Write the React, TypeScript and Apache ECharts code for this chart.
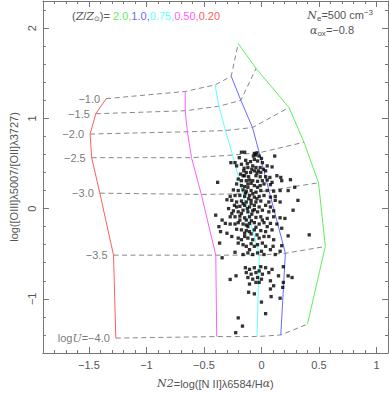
import React, { useEffect, useRef } from 'react';
import * as echarts from 'echarts';

// ---- Data ----
const LOG_U = [-1.0, -1.5, -2.0, -2.5, -3.0, -3.5, -4.0];
const METALLICITIES = ['2.0', '1.0', '0.75', '0.50', '0.20'];

// model grid points (one value per log U), per metallicity
const Z20_X = [-0.202, -0.047, 0.239, 0.370, 0.496, 0.555, 0.400];
const Z20_Y = [1.829, 1.553, 1.120, 0.735, 0.286, -0.420, -1.280];
const Z10_X = [-0.263, -0.179, -0.078, -0.019, 0.065, 0.208, 0.168];
const Z10_Y = [1.466, 1.200, 0.898, 0.619, 0.200, -0.495, -1.400];
const Z075_X = [-0.403, -0.370, -0.313, -0.251, -0.160, -0.019, -0.039];
const Z075_Y = [1.371, 1.134, 0.865, 0.593, 0.164, -0.516, -1.418];
const Z05_X = [-0.663, -0.663, -0.644, -0.608, -0.523, -0.397, -0.389];
const Z05_Y = [1.298, 1.084, 0.851, 0.564, 0.157, -0.516, -1.418];
const Z02_X = [-1.350, -1.440, -1.490, -1.476, -1.405, -1.286, -1.266];
const Z02_Y = [1.218, 1.051, 0.826, 0.564, 0.171, -0.516, -1.435];

// observed galaxies [N2, log(OIII/OII)]
const OBS_POINTS: [number, number][] = [
  [-0.174, 0.625], [-0.146, 0.625], [-0.062, 0.611], [-0.039, 0.618], [-0.048, 0.593], [-0.070, 0.582],
  [-0.020, 0.582], [0.115, 0.582], [-0.193, 0.564], [-0.266, 0.509], [-0.230, 0.509], [-0.137, 0.535],
  [-0.123, 0.498], [-0.095, 0.520], [-0.062, 0.545], [-0.034, 0.527], [0.000, 0.556], [0.008, 0.509],
  [-0.174, 0.491], [-0.216, 0.473], [-0.151, 0.447], [-0.118, 0.455], [-0.076, 0.473], [-0.048, 0.455],
  [-0.011, 0.455], [0.017, 0.436], [0.050, 0.473], [0.092, 0.462], [-0.154, 0.418], [-0.132, 0.400],
  [-0.095, 0.400], [-0.062, 0.418], [-0.028, 0.418], [-0.006, 0.400], [0.036, 0.418], [-0.182, 0.382],
  [-0.146, 0.364], [-0.112, 0.353], [-0.048, 0.364], [-0.011, 0.353], [0.036, 0.353], [0.073, 0.345],
  [0.134, 0.364], [0.168, 0.345], [0.252, 0.320], [-0.381, 0.291], [-0.202, 0.327], [-0.174, 0.309],
  [-0.132, 0.309], [-0.104, 0.316], [-0.076, 0.309], [-0.034, 0.302], [0.008, 0.309], [0.050, 0.316],
  [0.092, 0.291], [0.176, 0.309], [-0.216, 0.273], [-0.174, 0.255], [-0.146, 0.244], [-0.118, 0.273],
  [-0.062, 0.255], [-0.011, 0.255], [0.022, 0.273], [0.078, 0.265], [0.289, 0.236], [0.232, 0.200],
  [-0.244, 0.207], [-0.202, 0.200], [-0.160, 0.207], [-0.132, 0.193], [-0.090, 0.200], [-0.048, 0.182],
  [-0.006, 0.200], [0.050, 0.200], [0.106, 0.193], [0.162, 0.200], [-0.272, 0.135], [-0.230, 0.145],
  [-0.188, 0.145], [-0.146, 0.135], [-0.104, 0.145], [-0.062, 0.127], [-0.020, 0.135], [0.022, 0.145],
  [0.078, 0.127], [0.120, 0.135], [0.317, 0.091], [-0.300, 0.098], [-0.258, 0.091], [-0.216, 0.073],
  [-0.174, 0.084], [-0.132, 0.073], [-0.090, 0.091], [-0.048, 0.073], [-0.006, 0.084], [0.064, 0.073],
  [0.120, 0.091], [0.162, 0.073], [-0.235, 0.036], [-0.188, 0.025], [-0.146, 0.036], [-0.104, 0.018],
  [-0.062, 0.036], [-0.020, 0.018], [0.036, 0.036], [0.078, 0.018], [0.275, -0.018], [-0.398, -0.073],
  [-0.286, 0.000], [-0.244, -0.025], [-0.202, -0.036], [-0.160, -0.018], [-0.118, -0.036], [-0.076, -0.025],
  [-0.034, -0.036], [0.008, -0.018], [0.064, -0.036], [0.106, -0.025], [0.204, -0.109], [-0.342, -0.127],
  [-0.272, -0.091], [-0.230, -0.091], [-0.188, -0.084], [-0.146, -0.102], [-0.104, -0.091], [-0.048, -0.098],
  [-0.006, -0.091], [0.050, -0.109], [0.106, -0.091], [0.162, -0.102], [-0.370, -0.200], [-0.314, -0.164],
  [-0.272, -0.171], [-0.202, -0.156], [-0.160, -0.171], [-0.132, -0.182], [-0.104, -0.164], [-0.062, -0.156],
  [-0.020, -0.171], [0.022, -0.156], [0.078, -0.164], [0.134, -0.171], [-0.300, -0.273], [-0.356, -0.255],
  [-0.216, -0.229], [-0.174, -0.236], [-0.132, -0.244], [-0.104, -0.255], [-0.062, -0.236], [-0.006, -0.244],
  [0.036, -0.255], [0.092, -0.236], [0.176, -0.218], [0.232, -0.302], [0.415, -0.291], [-0.364, -0.382],
  [-0.342, -0.545], [-0.258, -0.309], [-0.202, -0.327], [-0.146, -0.309], [-0.118, -0.327], [-0.076, -0.345],
  [-0.020, -0.327], [0.022, -0.309], [0.106, -0.345], [-0.202, -0.382], [-0.160, -0.400], [-0.132, -0.418],
  [-0.090, -0.389], [-0.034, -0.400], [0.008, -0.382], [0.101, -0.418], [0.176, -0.411], [-0.230, -0.484],
  [-0.160, -0.509], [-0.118, -0.491], [-0.076, -0.509], [-0.034, -0.491], [0.022, -0.509], [0.120, -0.509],
  [0.162, -0.473], [-0.272, -0.785], [-0.221, -0.745], [-0.140, -0.655], [-0.104, -0.673], [-0.062, -0.655],
  [-0.006, -0.644], [0.036, -0.655], [0.092, -0.673], [0.190, -0.644], [0.232, -0.745], [0.266, -0.764],
  [-0.132, -0.709], [-0.090, -0.727], [-0.048, -0.709], [-0.020, -0.691], [0.008, -0.727], [0.064, -0.709],
  [0.148, -0.745], [0.190, -0.818], [-0.118, -0.764], [-0.076, -0.782], [-0.034, -0.764], [0.000, -0.782],
  [0.078, -0.800], [0.106, -0.855], [0.185, -0.873], [-0.104, -0.836], [-0.048, -0.818], [-0.020, -0.818],
  [-0.062, -0.945], [-0.112, -0.927], [0.078, -0.891], [0.084, -0.975], [0.162, -0.993], [0.000, -1.036],
  [0.036, -1.164], [-0.202, -1.211], [-0.165, -1.302], [-0.224, -1.375],
  [-0.160, 0.364], [-0.084, 0.436], [-0.039, 0.393], [-0.118, 0.236], [-0.090, 0.280], [-0.034, 0.236],
  [-0.140, 0.171], [-0.076, 0.164], [-0.112, 0.109], [-0.039, 0.109], [-0.160, 0.055], [-0.090, 0.055],
  [-0.123, 0.000], [-0.062, -0.011], [-0.174, -0.055], [-0.084, -0.062], [-0.132, -0.127], [-0.087, -0.135],
  [-0.118, -0.200], [-0.048, -0.207], [-0.090, -0.280], [-0.146, -0.273], [-0.039, -0.291], [-0.062, -0.418],
  [-0.104, -0.455], [-0.174, -0.345], [-0.230, -0.171], [-0.188, -0.127], [-0.258, -0.055], [-0.216, 0.018],
  [0.008, -0.127], [0.050, -0.200], [0.064, -0.309], [0.036, -0.418], [0.000, -0.473], [0.078, -0.455],
];

const X_MAJOR = [-1.5, -1, -0.5, 0, 0.5, 1];
const Y_MAJOR = [-1, 0, 1, 2];

// ---- Styling ----
const FONT = 'Liberation Sans, Arial, sans-serif';
const SERIF_IT = 'DejaVu Serif, serif';
const TEXT = '#555';
const AXIS = '#777';
const COLORS = ['#5ef05e', '#6a6aff', '#5effff', '#ff5eff', '#ff5e5e'];
const GRID_X = [Z20_X, Z10_X, Z075_X, Z05_X, Z02_X];
const GRID_Y = [Z20_Y, Z10_Y, Z075_Y, Z05_Y, Z02_Y];

const X_MINOR: number[] = [];
for (let i = -19; i <= 11; i++) X_MINOR.push(Math.round(i) / 10);
const Y_MINOR: number[] = [];
for (let i = -8; i <= 11; i++) Y_MINOR.push(Math.round(i * 2) / 10);

const fmt = (v: number) => (v < 0 ? '\u2212' + String(Math.abs(v)) : String(v));

function makeAxis(kind: 'x' | 'y', pos: string, major: boolean, labels: boolean) {
  const isX = kind === 'x';
  const ax: any = {
    type: 'value',
    min: isX ? -1.9 : -1.6,
    max: isX ? 1.1 : 2.3,
    position: pos,
    splitLine: { show: false },
    axisLine: { show: major, onZero: false, lineStyle: { color: AXIS, width: 1 } },
    axisTick: {
      show: true,
      inside: true,
      length: major ? 6 : 3,
      customValues: major ? (isX ? X_MAJOR : Y_MAJOR) : (isX ? X_MINOR : Y_MINOR),
      lineStyle: { color: AXIS, width: 1 },
    },
    axisLabel: { show: false },
  };
  if (labels) {
    ax.axisLabel = {
      show: true,
      customValues: isX ? X_MAJOR : Y_MAJOR,
      formatter: fmt,
      color: TEXT,
      fontSize: 11,
      fontFamily: FONT,
      margin: isX ? 6 : 5,
      rotate: isX ? 0 : 90,
    };
  }
  return ax;
}

export default function App() {
  const ref = useRef<HTMLDivElement>(null);
  useEffect(() => {
    if (!ref.current) return;
    const chart = echarts.init(ref.current, null, { renderer: 'svg' });

    const xAxes = [
      makeAxis('x', 'bottom', true, true),
      makeAxis('x', 'bottom', false, false),
      makeAxis('x', 'top', true, false),
      makeAxis('x', 'top', false, false),
    ];
    xAxes[0].name = '{i|N2}{p|=log([N II]\u03bb6584/H}{i|\u03b1}{p|)}';
    xAxes[0].nameLocation = 'middle';
    xAxes[0].nameGap = 25;
    xAxes[0].nameTextStyle = {
      color: TEXT, fontSize: 11, fontFamily: FONT,
      rich: {
        i: { fontStyle: 'italic', color: TEXT, fontSize: 11, fontFamily: SERIF_IT },
        p: { color: TEXT, fontSize: 11, fontFamily: FONT },
      },
    };
    const yAxes = [
      makeAxis('y', 'left', true, true),
      makeAxis('y', 'left', false, false),
      makeAxis('y', 'right', true, false),
      makeAxis('y', 'right', false, false),
    ];
    yAxes[0].name = 'log([OIII]\u03bb5007/[OII]\u03bb3727)';
    yAxes[0].nameLocation = 'middle';
    yAxes[0].nameGap = 19;
    yAxes[0].nameTextStyle = { color: TEXT, fontSize: 11, fontFamily: FONT };

    const series: any[] = [];
    // metallicity curves
    GRID_X.forEach((xs, k) => {
      series.push({
        type: 'line',
        name: METALLICITIES[k],
        data: xs.map((x, i) => [x, GRID_Y[k][i]]),
        symbol: 'none',
        lineStyle: { color: COLORS[k], width: 1 },
        z: 3,
      });
    });
    // ionisation parameter lines (from lowest to highest metallicity)
    LOG_U.forEach((u, i) => {
      const order = [4, 3, 2, 1, 0];
      series.push({
        type: 'line',
        name: 'logU ' + u,
        data: order.map((k) => [GRID_X[k][i], GRID_Y[k][i]]),
        symbol: 'none',
        lineStyle: { color: '#888', width: 1, type: [5, 3.5] },
        z: 2,
      });
    });
    // logU labels at the low-metallicity end
    const labelRich = {
      i: { fontStyle: 'italic', color: TEXT, fontSize: 11, fontFamily: SERIF_IT, textBorderWidth: 0 },
      p: { color: TEXT, fontSize: 11, fontFamily: FONT, textBorderWidth: 0 },
    };
    series.push({
      type: 'scatter',
      data: Z02_X.map((x, i) => [x, Z02_Y[i]]),
      symbolSize: 0,
      silent: true,
      itemStyle: { color: TEXT },
      label: {
        show: true,
        position: 'left',
        distance: 6,
        color: TEXT,
        textBorderWidth: 0,
        fontSize: 11,
        fontFamily: FONT,
        formatter: (p: any) => {
          const s = '\u2212' + Math.abs(LOG_U[p.dataIndex]).toFixed(1);
          return p.dataIndex === LOG_U.length - 1 ? '{p|log}{i|U}{p|=' + s + '}' : '{p|' + s + '}';
        },
        rich: labelRich,
      },
      z: 4,
    });
    // observed points
    series.push({
      type: 'scatter',
      data: OBS_POINTS,
      symbol: 'rect',
      symbolSize: 3.3,
      itemStyle: { color: '#000' },
      z: 5,
    });

    const legendRich: any = {
      p: { fill: TEXT, color: TEXT, fontSize: 11, fontFamily: FONT },
      iz: { fill: TEXT, color: TEXT, fontSize: 11, fontStyle: 'italic', fontFamily: SERIF_IT },
      sun: { fill: TEXT, color: TEXT, fontSize: 7, fontFamily: 'DejaVu Sans, sans-serif', verticalAlign: 'bottom', padding: [6, 0, 0, 0] },
    };
    const keys = ['g', 'b', 'c', 'm', 'r'];
    keys.forEach((k, idx) => {
      legendRich[k] = { fill: COLORS[idx], color: COLORS[idx], fontSize: 11, fontFamily: FONT };
    });
    const legendText =
      '{p|(}{iz|Z}{p|/}{iz|Z}{sun|\u2299}{p|)= }' +
      METALLICITIES.map((m, idx) => `{${keys[idx]}|${m}${idx < METALLICITIES.length - 1 ? ',' : ''}}`).join('');

    chart.setOption({
      animation: false,
      backgroundColor: '#fff',
      grid: { left: 31, right: 1, top: 1, bottom: 35.7, containLabel: false },
      xAxis: xAxes,
      yAxis: yAxes,
      series,
      graphic: [
        {
          type: 'text',
          x: 72,
          y: 16,
          style: { text: legendText, rich: legendRich, verticalAlign: 'middle', align: 'left' },
        },
        {
          type: 'text',
          x: 373,
          y: 15,
          style: {
            text: '{i|N}{sub|e}{p|=500 cm}{sup|\u22123}',
            align: 'right',
            verticalAlign: 'middle',
            rich: {
              p: { fill: TEXT, fontSize: 11, fontFamily: FONT },
              i: { fill: TEXT, fontSize: 11, fontStyle: 'italic', fontFamily: SERIF_IT },
              sub: { fill: TEXT, fontSize: 8, fontFamily: FONT, verticalAlign: 'bottom', padding: [6, 0, 0, 0] },
              sup: { fill: TEXT, fontSize: 8, fontFamily: FONT, verticalAlign: 'top', padding: [0, 0, 6, 0] },
            },
          },
        },
        {
          type: 'text',
          x: 310,
          y: 30,
          style: {
            text: '{i|\u03b1}{sub|ox}{p|=\u22120.8}',
            align: 'left',
            verticalAlign: 'middle',
            rich: {
              p: { fill: TEXT, fontSize: 11, fontFamily: FONT },
              i: { fill: TEXT, fontSize: 11, fontStyle: 'italic', fontFamily: SERIF_IT },
              sub: { fill: TEXT, fontSize: 8, fontFamily: FONT, verticalAlign: 'bottom', padding: [6, 0, 0, 0] },
            },
          },
        },
      ],
    });
    return () => chart.dispose();
  }, []);
  return <div ref={ref} style={{ position: 'fixed', left: 0, top: 0, width: 389, height: 394 }} />;
}
